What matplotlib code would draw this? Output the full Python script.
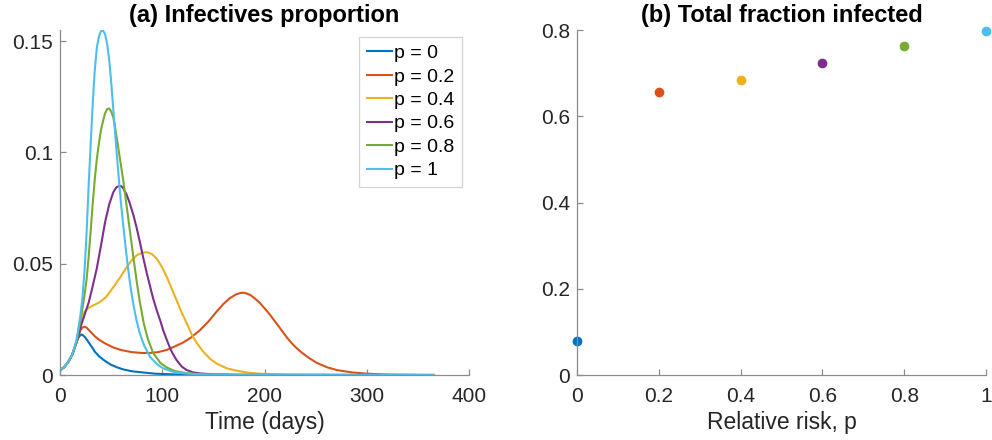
import matplotlib
matplotlib.use("Agg")
import matplotlib.pyplot as plt

plt.rcParams['font.family'] = ['Liberation Sans', 'DejaVu Sans']

# relative risk values and matlab default line colours
p_values = [0, 0.2, 0.4, 0.6, 0.8, 1]
p_labels = ['p = 0', 'p = 0.2', 'p = 0.4', 'p = 0.6', 'p = 0.8', 'p = 1']
colors = ['#0072BD', '#D95319', '#EDB120', '#7E2F8E', '#77AC30', '#4DBEEE']

# infectives proportion over time
t_p0 = [0, 4, 8, 12, 16, 18, 20, 21, 22, 24, 26, 28, 31, 34, 38, 42, 46, 50, 56, 62,
        70, 80, 93, 110, 130, 160, 200, 365]
i_p0 = [0.0022, 0.0035, 0.0058, 0.0092, 0.0145, 0.0168, 0.018, 0.0182, 0.018, 0.0172,
        0.016, 0.0147, 0.0127, 0.0105, 0.0085, 0.007, 0.0057, 0.0046, 0.0034, 0.0025,
        0.0017, 0.0012, 0.0006, 0.0003, 0.00012, 0.00004, 0.00001, 0]

t_p02 = [0, 4, 8, 12, 16, 18, 20, 22, 24, 26, 29, 34, 39, 44, 52, 60, 70, 80, 88, 96,
         104, 112, 120, 128, 137, 145, 153, 160, 166, 172, 176, 179, 182, 186, 190, 195,
         200, 205, 210, 214, 218, 222, 226, 230, 235, 243, 251, 261, 271, 285, 300, 320,
         340, 365]
i_p02 = [0.0022, 0.0035, 0.0058, 0.0092, 0.0145, 0.0175, 0.0202, 0.0214, 0.0217, 0.0213,
         0.0198, 0.0174, 0.0156, 0.0142, 0.0124, 0.0112, 0.0103, 0.0099, 0.0099, 0.0103,
         0.0112, 0.0128, 0.0145, 0.0168, 0.0202, 0.024, 0.0284, 0.032, 0.0345, 0.0362,
         0.0368, 0.037, 0.0367, 0.036, 0.0346, 0.0326, 0.030, 0.0273, 0.0242, 0.0218,
         0.0193, 0.0168, 0.0146, 0.0127, 0.0106, 0.0078, 0.0055, 0.0035, 0.0022, 0.0012,
         0.0006, 0.0002, 0.0001, 0.00003]

t_p04 = [0, 4, 8, 12, 16, 18, 20, 22, 24, 27, 30, 34, 39, 45, 52, 59, 65, 70, 75, 80,
         85, 90, 95, 100, 105, 110, 114, 119, 124, 129, 134, 140, 147, 153, 163, 173,
         185, 196, 220, 250, 300, 365]
i_p04 = [0.0022, 0.0035, 0.0058, 0.0092, 0.0145, 0.019, 0.0235, 0.0268, 0.0285, 0.0298,
         0.0307, 0.0316, 0.0328, 0.035, 0.0394, 0.044, 0.0483, 0.0515, 0.0538, 0.0549,
         0.0552, 0.0543, 0.052, 0.0483, 0.0435, 0.038, 0.0336, 0.028, 0.0232, 0.018,
         0.0142, 0.0105, 0.0072, 0.0052, 0.003, 0.0019, 0.001, 0.0006, 0.0002, 0.0001,
         0.00002, 0]

t_p06 = [0, 4, 8, 12, 16, 18, 20, 24, 28, 32, 36, 40, 44, 48, 52, 55, 58, 60, 62, 65,
         68, 72, 75, 78, 81, 85, 88, 91, 95, 98, 101, 104, 107, 110, 114, 119, 124, 130,
         137, 150, 170, 200, 365]
i_p06 = [0.0022, 0.0035, 0.0058, 0.0092, 0.0145, 0.018, 0.0215, 0.027, 0.0325, 0.040,
         0.048, 0.058, 0.0685, 0.0765, 0.082, 0.0843, 0.085, 0.0848, 0.0838, 0.0812,
         0.0775, 0.0715, 0.066, 0.060, 0.0535, 0.0455, 0.040, 0.0345, 0.0285, 0.0245,
         0.020, 0.0163, 0.0128, 0.0098, 0.0067, 0.0038, 0.0022, 0.0012, 0.0007, 0.0003,
         0.0001, 0.00002, 0]

t_p08 = [0, 4, 8, 12, 16, 18, 20, 22, 24, 26, 28, 30, 32, 34, 36, 38, 40, 42, 44, 46,
         48, 50, 52, 54, 56, 58, 60, 62, 64, 66, 68, 70, 72, 75, 78, 82, 86, 91, 98, 104,
         112, 124, 140, 170, 365]
i_p08 = [0.0022, 0.0035, 0.0058, 0.0092, 0.0148, 0.020, 0.025, 0.030, 0.036, 0.043,
         0.053, 0.065, 0.077, 0.088, 0.097, 0.104, 0.110, 0.114, 0.1175, 0.1195,
         0.1198, 0.1185, 0.116, 0.111, 0.105, 0.099, 0.093, 0.087, 0.080, 0.073,
         0.066, 0.059, 0.052, 0.042, 0.033, 0.023, 0.016, 0.010, 0.0055, 0.0035,
         0.0018, 0.0008, 0.0003, 0.0001, 0]

t_p1 = [0, 4, 8, 12, 16, 18, 20, 22, 24, 26, 28, 30, 32, 34, 36, 38, 40, 42, 44, 46,
        48, 50, 52, 54, 56, 58, 60, 62, 64, 66, 68, 70, 72, 75, 78, 82, 88, 95, 101, 110,
        120, 140, 170, 365]
i_p1 = [0.0022, 0.0035, 0.0058, 0.0092, 0.0155, 0.021, 0.027, 0.035, 0.047, 0.064,
        0.085, 0.104, 0.122, 0.137, 0.147, 0.152, 0.1545, 0.1548, 0.1532, 0.149,
        0.142, 0.132, 0.120, 0.108, 0.0965, 0.0855, 0.0755, 0.0665, 0.058, 0.050,
        0.0428, 0.0365, 0.031, 0.0242, 0.0188, 0.0135, 0.0082, 0.0048, 0.003, 0.0015,
        0.0008, 0.0002, 0.0001, 0]

# total fraction infected for each p
total_infected = [0.079, 0.656, 0.685, 0.724, 0.763, 0.798]

times = [t_p0, t_p02, t_p04, t_p06, t_p08, t_p1]
infectives = [i_p0, i_p02, i_p04, i_p06, i_p08, i_p1]

text_color = '#262626'
axis_color = '#8c8c8c'

fig = plt.figure(figsize=(9.92, 4.4), dpi=100)
ax1 = fig.add_axes([0.0605, 0.1477, 0.4123, 0.784])
ax2 = fig.add_axes([0.5817, 0.1477, 0.4123, 0.784])

# (a) infectives curves
for t, i, c, lab in zip(times, infectives, colors, p_labels):
    ax1.plot(t, i, color=c, lw=1.5, label=lab)
ax1.set_xlim(0, 400)
ax1.set_ylim(0, 0.155)
ax1.set_xticks([0, 100, 200, 300, 400])
ax1.set_yticks([0, 0.05, 0.1, 0.15])
ax1.set_yticklabels(['0', '0.05', '0.1', '0.15'])
ax1.set_xlabel('Time (days)', fontsize=16.5, color=text_color, labelpad=4)
ax1.set_title('(a) Infectives proportion', fontsize=17, fontweight='bold', pad=6)

leg = ax1.legend(loc='upper right', bbox_to_anchor=(462.3 / 992, 1 - 36.7 / 440),
                 bbox_transform=fig.transFigure, fontsize=14, frameon=True,
                 fancybox=False, borderpad=0.4, borderaxespad=0, handlelength=1.3,
                 handletextpad=0.1, labelspacing=0.3)
leg.get_frame().set_edgecolor('#c8c8c8')
leg.get_frame().set_linewidth(0.9)

# (b) final size vs relative risk
for p, f, c in zip(p_values, total_infected, colors):
    ax2.plot(p, f, 'o', color=c, markersize=6, clip_on=False)
ax2.set_xlim(0, 1)
ax2.set_ylim(0, 0.8)
ax2.set_xticks([0, 0.2, 0.4, 0.6, 0.8, 1])
ax2.set_xticklabels(['0', '0.2', '0.4', '0.6', '0.8', '1'])
ax2.set_yticks([0, 0.2, 0.4, 0.6, 0.8])
ax2.set_yticklabels(['0', '0.2', '0.4', '0.6', '0.8'])
ax2.set_xlabel('Relative risk, p', fontsize=16.5, color=text_color, labelpad=4)
ax2.set_title('(b) Total fraction infected', fontsize=17, fontweight='bold', pad=6)

for ax in (ax1, ax2):
    ax.spines['top'].set_visible(False)
    ax.spines['right'].set_visible(False)
    for s in ('left', 'bottom'):
        ax.spines[s].set_color(axis_color)
        ax.spines[s].set_linewidth(0.9)
    ax.tick_params(direction='in', length=4, width=0.9, color=axis_color,
                   labelsize=15, labelcolor=text_color)
    ax.tick_params(axis='x', pad=8.5)
    ax.tick_params(axis='y', pad=5)

fig.savefig('out.png', dpi=100)
